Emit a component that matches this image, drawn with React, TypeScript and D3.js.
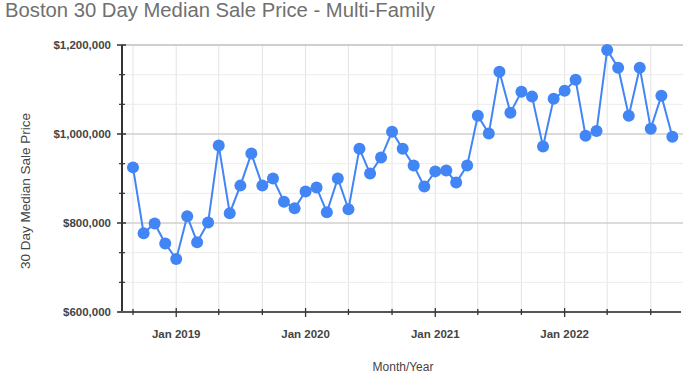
import React from "react";
import * as d3 from "d3";

const months = [
  "2018-09","2018-10","2018-11","2018-12",
  "2019-01","2019-02","2019-03","2019-04","2019-05","2019-06","2019-07","2019-08","2019-09","2019-10","2019-11","2019-12",
  "2020-01","2020-02","2020-03","2020-04","2020-05","2020-06","2020-07","2020-08","2020-09","2020-10","2020-11","2020-12",
  "2021-01","2021-02","2021-03","2021-04","2021-05","2021-06","2021-07","2021-08","2021-09","2021-10","2021-11","2021-12",
  "2022-01","2022-02","2022-03","2022-04","2022-05","2022-06","2022-07","2022-08","2022-09","2022-10","2022-11",
];

const prices = [
  925000, 777000, 799000, 754000,
  719000, 815000, 757000, 801000, 974000, 822000, 884000, 956000, 884000, 900000, 848000, 833000,
  871000, 880000, 824000, 900000, 831000, 967000, 911000, 947000, 1005000, 967000, 929000, 882000,
  916000, 918000, 891000, 929000, 1041000, 1001000, 1140000, 1048000, 1095000, 1084000, 972000, 1079000,
  1097000, 1122000, 996000, 1007000, 1189000, 1149000, 1041000, 1149000, 1012000, 1086000, 994000,
];

const yMajorTicks = [600000, 800000, 1000000, 1200000];
const xDomain = ["2018-08", "2022-12"];
const title = "Boston 30 Day Median Sale Price - Multi-Family";
const yTitle = "30 Day Median Sale Price";
const xTitle = "Month/Year";

const parse = d3.timeParse("%Y-%m");

export default function App() {
  const W = 700, H = 375;
  const left = 122, right = 683, top = 45, bottom = 312;
  const x = d3.scaleTime().domain(xDomain.map((s) => parse(s) as Date)).range([left, right]);
  const y = d3.scaleLinear().domain([600000, 1200000]).range([bottom, top]);
  const data = months.map((m, i) => ({ d: parse(m) as Date, v: prices[i] }));
  const line = d3.line<{ d: Date; v: number }>().x((p) => x(p.d)).y((p) => y(p.v));
  const xTicks = x.ticks(d3.timeMonth.every(4) as any);
  const yMinor: number[] = [];
  for (let i = 0; i < yMajorTicks.length - 1; i++) {
    const a = yMajorTicks[i], b = yMajorTicks[i + 1];
    yMinor.push(a + (b - a) / 3, a + (2 * (b - a)) / 3);
  }
  const fmt = d3.format("$,");
  const fmtX = d3.timeFormat("%b %Y");
  const blue = "#4285F4";
  const axisColor = "#333";
  const font = "Liberation Sans, Arial, sans-serif";

  return (
    <svg width={W} height={H} style={{ position: "absolute", left: 0, top: 0, background: "#fff" }} fontFamily={font}>
      <rect x={0} y={0} width={W} height={H} fill="#fff" />
      {xTicks.map((t, i) => (
        <line key={"vg" + i} x1={x(t)} x2={x(t)} y1={top} y2={bottom} stroke="#e3e3e3" strokeWidth={1} />
      ))}
      {yMinor.map((v, i) => (
        <line key={"hm" + i} x1={left} x2={right} y1={y(v)} y2={y(v)} stroke="#ececec" strokeWidth={1} />
      ))}
      {yMajorTicks.slice(1).map((v, i) => (
        <line key={"hM" + i} x1={left} x2={right} y1={y(v)} y2={y(v)} stroke="#cfcfcf" strokeWidth={v === 1200000 ? 2 : 1.3} />
      ))}
      <line x1={left} x2={left} y1={top} y2={bottom} stroke={axisColor} strokeWidth={2} />
      {yMajorTicks.map((v, i) => (
        <line key={"yt" + i} x1={left - 5} x2={left + 4} y1={y(v)} y2={y(v)} stroke={axisColor} strokeWidth={1.5} />
      ))}
      {yMinor.map((v, i) => (
        <line key={"ytm" + i} x1={left - 3} x2={left + 3} y1={y(v)} y2={y(v)} stroke={axisColor} strokeWidth={1.2} />
      ))}
      {yMajorTicks.map((v, i) => (
        <text key={"yl" + i} x={111} y={y(v)} dy="0.35em" textAnchor="end" fontSize={11.5} fontWeight="bold" fill="#444">
          {fmt(v)}
        </text>
      ))}
      <line x1={left - 4} x2={681} y1={bottom} y2={bottom} stroke="#555" strokeWidth={2} />
      {xTicks.map((t, i) => {
        const major = t.getMonth() === 0;
        return (
          <line key={"xt" + i} x1={x(t)} x2={x(t)} y1={bottom - (major ? 4 : 3)} y2={bottom + (major ? 5 : 3)} stroke={axisColor} strokeWidth={1.3} />
        );
      })}
      {xTicks.filter((t) => t.getMonth() === 0).map((t, i) => (
        <text key={"xl" + i} x={x(t)} y={338} textAnchor="middle" fontSize={11.5} fontWeight="bold" fill="#444">
          {fmtX(t)}
        </text>
      ))}
      <path d={line(data) || ""} fill="none" stroke={blue} strokeWidth={2} />
      {data.map((p, i) => (
        <circle key={"pt" + i} cx={x(p.d)} cy={y(p.v)} r={6} fill={blue} />
      ))}
      <text x={5} y={17} fontSize={19.5} fill="#707070" textLength={430} lengthAdjust="spacingAndGlyphs">{title}</text>
      <text transform={`translate(30,191) rotate(-90)`} textAnchor="middle" fontSize={13} fill="#444" textLength={156} lengthAdjust="spacingAndGlyphs">{yTitle}</text>
      <text x={403} y={371} textAnchor="middle" fontSize={12} fill="#444">{xTitle}</text>
    </svg>
  );
}
